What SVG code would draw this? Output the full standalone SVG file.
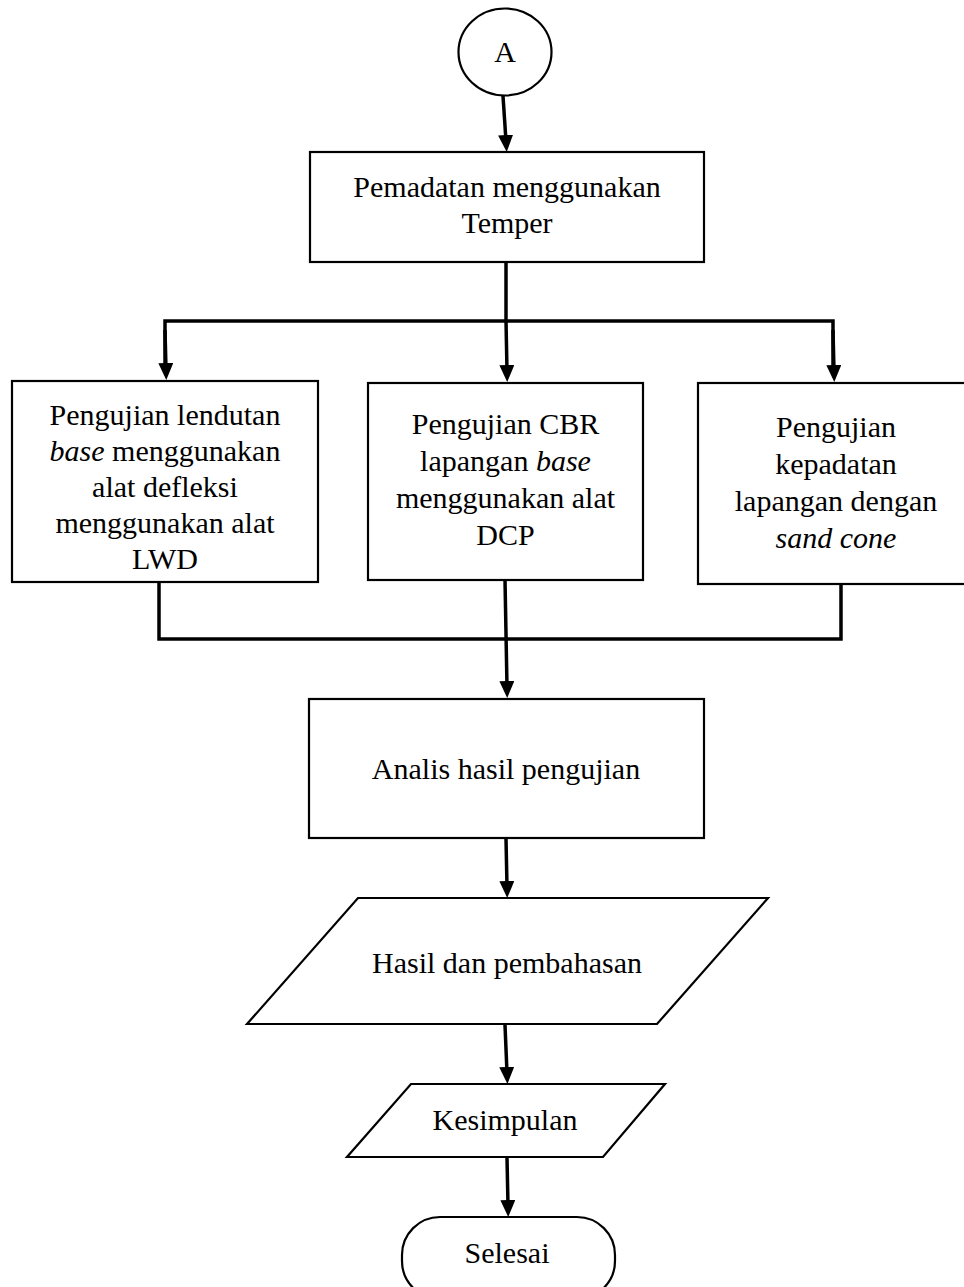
<svg xmlns="http://www.w3.org/2000/svg" width="964" height="1287" viewBox="0 0 964 1287">
<defs>
<style>
.shape{fill:#fff;stroke:#000;stroke-width:2.2}
.conn{fill:none;stroke:#000;stroke-width:3.5;stroke-linejoin:miter}
.arrow{marker-end:url(#ah)}
text{font-family:"Liberation Serif","Times New Roman",serif;font-size:30px;fill:#000;text-anchor:middle}
.it{font-style:italic}
</style>
<marker id="ah" markerUnits="userSpaceOnUse" markerWidth="20" markerHeight="16" refX="6" refY="7.5" orient="auto">
<path d="M0,0 L17,7.5 L0,15 Z" fill="#000"/>
</marker>
</defs>
<rect width="964" height="1287" fill="#fff"/>

<g id="connectors">
<line class="conn arrow" x1="503" y1="96" x2="506" y2="141"/>
<line class="conn" x1="506" y1="263" x2="506" y2="321"/>
<polyline class="conn" points="165,371 165,321 833,321 833,371"/>
<line class="conn arrow" x1="165" y1="330" x2="166" y2="369"/>
<line class="conn arrow" x1="506" y1="321" x2="507" y2="371"/>
<line class="conn arrow" x1="833" y1="330" x2="834" y2="371"/>
<polyline class="conn" points="159,582 159,639 841,639 841,584"/>
<line class="conn arrow" x1="505" y1="580" x2="507" y2="687"/>
<line class="conn arrow" x1="506" y1="839" x2="507" y2="887"/>
<line class="conn arrow" x1="505" y1="1025" x2="507" y2="1073"/>
<line class="conn arrow" x1="507" y1="1158" x2="508" y2="1206"/>
</g>

<g id="nodeA">
<ellipse class="shape" cx="505" cy="52" rx="46.5" ry="43.5"/>
<text x="505" y="62">A</text>
</g>

<g id="pemadatan">
<rect class="shape" x="310" y="152" width="394" height="110"/>
<text x="507" y="197">Pemadatan menggunakan</text>
<text x="507" y="233">Temper</text>
</g>

<g id="lwd">
<rect class="shape" x="12" y="381" width="306" height="201"/>
<text x="165" y="425">Pengujian lendutan</text>
<text x="165" y="461"><tspan class="it">base</tspan> menggunakan</text>
<text x="165" y="497">alat defleksi</text>
<text x="165" y="533">menggunakan alat</text>
<text x="165" y="569">LWD</text>
</g>

<g id="cbr">
<rect class="shape" x="368" y="383" width="275" height="197"/>
<text x="505.5" y="434">Pengujian CBR</text>
<text x="505.5" y="471">lapangan <tspan class="it">base</tspan></text>
<text x="505.5" y="508">menggunakan alat</text>
<text x="505.5" y="545">DCP</text>
</g>

<g id="sandcone">
<rect class="shape" x="698" y="383" width="276" height="201"/>
<text x="836" y="437">Pengujian</text>
<text x="836" y="474">kepadatan</text>
<text x="836" y="511">lapangan dengan</text>
<text x="836" y="548" class="it">sand cone</text>
</g>

<g id="analis">
<rect class="shape" x="309" y="699" width="395" height="139"/>
<text x="506" y="779">Analis hasil pengujian</text>
</g>

<g id="hasil">
<polygon class="shape" points="358,898 768,898 657,1024 247,1024"/>
<text x="507" y="973">Hasil dan pembahasan</text>
</g>

<g id="kesimpulan">
<polygon class="shape" points="411,1084 665,1084 603,1157 347,1157"/>
<text x="505" y="1130">Kesimpulan</text>
</g>

<g id="selesai">
<rect class="shape" x="402" y="1217" width="213" height="82" rx="38" ry="38"/>
<text x="507" y="1263">Selesai</text>
</g>
</svg>
